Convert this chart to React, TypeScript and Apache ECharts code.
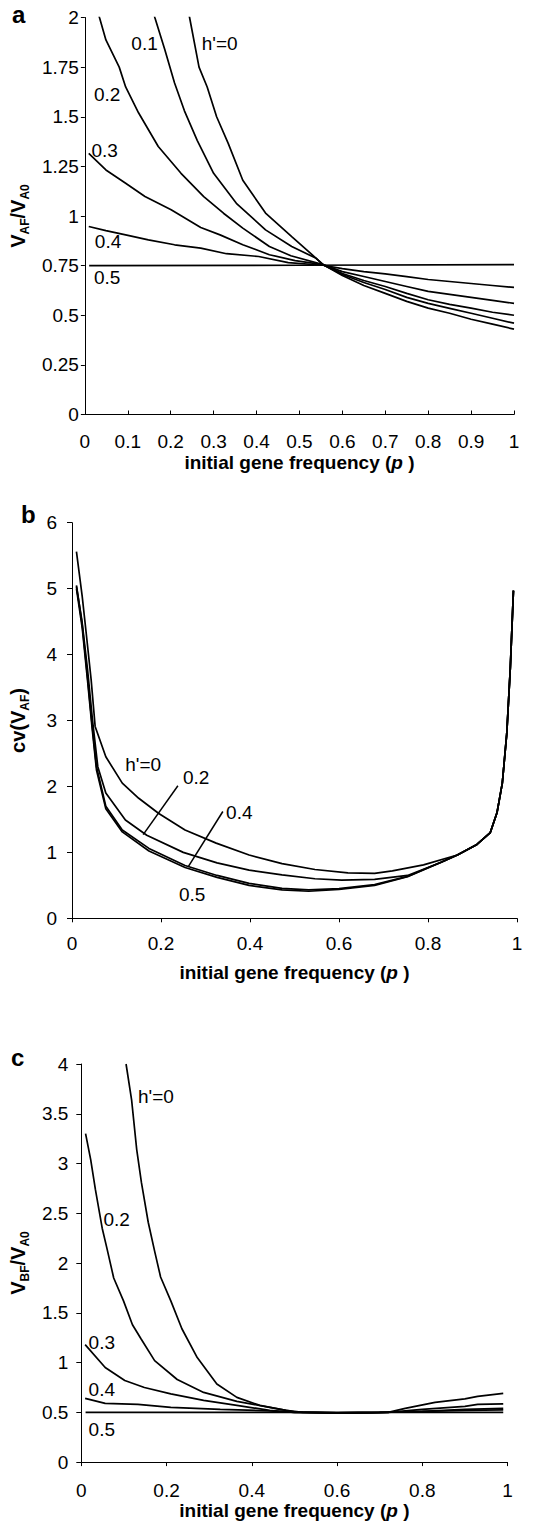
import React, { useEffect, useRef } from "react";
import * as echarts from "echarts";

const FONT = '"Liberation Sans", Arial, Helvetica, sans-serif';

// ---------- Panel a : V_AF / V_A0 ----------
const A_H0_X = [0.23, 0.244, 0.266, 0.285, 0.307, 0.334, 0.368, 0.421, 0.482, 0.539, 0.555, 0.6, 0.65, 0.7, 0.75, 0.8, 0.85, 0.9, 0.95, 1.0];
const A_H0_Y = [2.15, 2.0, 1.75, 1.65, 1.5, 1.366, 1.18, 1.015, 0.896, 0.787, 0.755, 0.7, 0.65, 0.61, 0.57, 0.536, 0.51, 0.48, 0.455, 0.43];
const A_H1_X = [0.15, 0.163, 0.186, 0.209, 0.232, 0.262, 0.3, 0.353, 0.421, 0.482, 0.539, 0.555, 0.6, 0.65, 0.7, 0.75, 0.8, 0.85, 0.9, 0.95, 1.0];
const A_H1_Y = [2.12, 2.0, 1.84, 1.67, 1.53, 1.38, 1.215, 1.064, 0.93, 0.846, 0.787, 0.755, 0.705, 0.665, 0.63, 0.59, 0.56, 0.535, 0.51, 0.485, 0.46];
const A_H2_X = [0.025, 0.034, 0.049, 0.08, 0.095, 0.125, 0.171, 0.224, 0.277, 0.323, 0.368, 0.43, 0.48, 0.555, 0.6, 0.65, 0.7, 0.75, 0.8, 0.85, 0.9, 0.95, 1.0];
const A_H2_Y = [2.08, 2.0, 1.887, 1.75, 1.65, 1.52, 1.35, 1.215, 1.098, 1.014, 0.939, 0.846, 0.8, 0.755, 0.71, 0.675, 0.645, 0.61, 0.578, 0.555, 0.536, 0.515, 0.5];
const A_H3_X = [0.009, 0.049, 0.095, 0.14, 0.201, 0.27, 0.315, 0.368, 0.43, 0.49, 0.555, 0.6, 0.65, 0.7, 0.75, 0.8, 0.85, 0.9, 0.95, 1.0];
const A_H3_Y = [1.316, 1.232, 1.165, 1.098, 1.031, 0.942, 0.905, 0.855, 0.805, 0.775, 0.755, 0.72, 0.695, 0.67, 0.645, 0.62, 0.605, 0.59, 0.575, 0.56];
const A_H4_X = [0.009, 0.049, 0.095, 0.148, 0.209, 0.27, 0.33, 0.405, 0.474, 0.555, 0.6, 0.65, 0.7, 0.75, 0.8, 0.85, 0.9, 0.95, 1.0];
const A_H4_Y = [0.947, 0.926, 0.905, 0.88, 0.855, 0.838, 0.81, 0.796, 0.765, 0.752, 0.735, 0.72, 0.708, 0.695, 0.68, 0.67, 0.66, 0.65, 0.64];
const A_H5_X = [0.01, 0.5, 1.0];
const A_H5_Y = [0.75, 0.752, 0.755];
const A_LABELS = [
  { text: "0.1", x: 0.139, y: 1.87 },
  { text: "h'=0", x: 0.314, y: 1.87 },
  { text: "0.2", x: 0.052, y: 1.614 },
  { text: "0.3", x: 0.046, y: 1.332 },
  { text: "0.4", x: 0.054, y: 0.871 },
  { text: "0.5", x: 0.052, y: 0.688 },
];

// ---------- Panel b : cv(V_AF) ----------
const B_H0_X = [0.01, 0.023, 0.032, 0.043, 0.052, 0.076, 0.113, 0.15, 0.195, 0.254, 0.324, 0.398, 0.472, 0.546, 0.62, 0.68, 0.72, 0.79, 0.866, 0.91, 0.94, 0.955, 0.967, 0.977, 0.985, 0.992];
const B_H0_Y = [5.56, 4.88, 4.32, 3.62, 2.91, 2.45, 2.05, 1.82, 1.59, 1.34, 1.14, 0.96, 0.83, 0.74, 0.69, 0.68, 0.72, 0.81, 0.96, 1.12, 1.3, 1.6, 2.05, 2.8, 3.8, 4.97];
const B_H2_X = [0.01, 0.022, 0.035, 0.046, 0.058, 0.076, 0.12, 0.168, 0.25, 0.326, 0.398, 0.472, 0.546, 0.606, 0.68, 0.754, 0.83, 0.866, 0.91, 0.94, 0.955, 0.967, 0.977, 0.985, 0.992];
const B_H2_Y = [5.03, 4.53, 3.77, 3.01, 2.3, 1.9, 1.49, 1.26, 1.0, 0.84, 0.73, 0.66, 0.6, 0.58, 0.59, 0.65, 0.85, 0.96, 1.12, 1.3, 1.6, 2.05, 2.8, 3.8, 4.97];
const B_H4_X = [0.01, 0.023, 0.035, 0.045, 0.055, 0.076, 0.113, 0.173, 0.254, 0.326, 0.398, 0.472, 0.532, 0.6, 0.68, 0.754, 0.83, 0.866, 0.91, 0.94, 0.955, 0.967, 0.977, 0.985, 0.992];
const B_H4_Y = [5.05, 4.45, 3.65, 2.95, 2.3, 1.7, 1.34, 1.06, 0.8, 0.65, 0.53, 0.455, 0.43, 0.45, 0.51, 0.635, 0.855, 0.96, 1.12, 1.3, 1.6, 2.05, 2.8, 3.8, 4.97];
const B_H5_X = [0.01, 0.023, 0.035, 0.045, 0.055, 0.076, 0.113, 0.173, 0.254, 0.326, 0.398, 0.472, 0.532, 0.6, 0.68, 0.754, 0.83, 0.866, 0.91, 0.94, 0.955, 0.967, 0.977, 0.985, 0.992];
const B_H5_Y = [5.0, 4.4, 3.6, 2.9, 2.25, 1.66, 1.31, 1.02, 0.77, 0.62, 0.5, 0.43, 0.41, 0.44, 0.5, 0.63, 0.85, 0.96, 1.12, 1.3, 1.6, 2.05, 2.8, 3.8, 4.97];
const B_LABELS = [
  { text: "h'=0", x: 0.16, y: 2.34 },
  { text: "0.2", x: 0.279, y: 2.13 },
  { text: "0.4", x: 0.376, y: 1.61 },
  { text: "0.5", x: 0.27, y: 0.36 },
];
const B_LEADER_02 = [[0.16, 1.27], [0.238, 2.01]];
const B_LEADER_04 = [[0.261, 0.78], [0.339, 1.62]];

// ---------- Panel c : V_BF / V_A0 ----------
const C_H0_X = [0.105, 0.118, 0.13, 0.141, 0.157, 0.172, 0.186, 0.21, 0.236, 0.272, 0.318, 0.365, 0.419, 0.48, 0.52, 0.6, 0.68, 0.72, 0.76, 0.83, 0.9, 0.93, 0.99];
const C_H0_Y = [4.0, 3.64, 3.14, 2.81, 2.41, 2.12, 1.86, 1.62, 1.34, 1.05, 0.785, 0.65, 0.57, 0.52, 0.5, 0.492, 0.495, 0.5, 0.54, 0.6, 0.635, 0.66, 0.69];
const C_H2_X = [0.01, 0.022, 0.033, 0.049, 0.06, 0.076, 0.099, 0.12, 0.14, 0.172, 0.225, 0.287, 0.365, 0.442, 0.5, 0.6, 0.72, 0.8, 0.9, 0.93, 0.99];
const C_H2_Y = [3.3, 3.04, 2.74, 2.35, 2.15, 1.85, 1.62, 1.38, 1.24, 1.02, 0.83, 0.7, 0.61, 0.55, 0.505, 0.495, 0.5, 0.53, 0.56, 0.58, 0.585];
const C_H3_X = [0.009, 0.056, 0.102, 0.148, 0.21, 0.287, 0.365, 0.442, 0.5, 0.6, 0.7, 0.8, 0.9, 0.99];
const C_H3_Y = [1.18, 0.95, 0.82, 0.75, 0.685, 0.62, 0.57, 0.52, 0.5, 0.495, 0.5, 0.51, 0.53, 0.54];
const C_H4_X = [0.009, 0.056, 0.133, 0.21, 0.326, 0.442, 0.5, 0.6, 0.7, 0.8, 0.9, 0.99];
const C_H4_Y = [0.64, 0.59, 0.58, 0.55, 0.53, 0.515, 0.5, 0.495, 0.5, 0.51, 0.52, 0.525];
const C_H5_X = [0.01, 0.99];
const C_H5_Y = [0.5, 0.5];
const C_LABELS = [
  { text: "h'=0", x: 0.175, y: 3.67 },
  { text: "0.2", x: 0.083, y: 2.44 },
  { text: "0.3", x: 0.048, y: 1.2 },
  { text: "0.4", x: 0.048, y: 0.73 },
  { text: "0.5", x: 0.048, y: 0.33 },
];

const pairs = (xs: number[], ys: number[]) => xs.map((x, i) => [x, ys[i]]);

function curve(g: number, xs: number[], ys: number[], width = 1.7) {
  return {
    type: "line",
    xAxisIndex: g,
    yAxisIndex: g,
    data: pairs(xs, ys),
    symbol: "none",
    showSymbol: false,
    clip: true,
    silent: true,
    lineStyle: { color: "#000", width, opacity: 1 },
  };
}

function labels(g: number, items: { text: string; x: number; y: number }[]) {
  return {
    type: "scatter",
    xAxisIndex: g,
    yAxisIndex: g,
    symbolSize: 1,
    silent: true,
    itemStyle: { color: "rgba(255,255,255,0)", opacity: 1 },
    label: {
      show: true,
      position: "inside",
      formatter: "{b}",
      fontSize: 19,
      color: "#000",
      opacity: 1,
      textBorderWidth: 0,
      fontFamily: FONT,
    },
    data: items.map((l) => ({ name: l.text, value: [l.x, l.y] })),
  };
}

const axisText = { fontSize: 19, color: "#000", fontFamily: FONT };

function xAxis(g: number, interval: number, margin: number, nameGap: number, tickInside: boolean) {
  return {
    type: "value",
    gridIndex: g,
    min: 0,
    max: 1,
    interval,
    axisLine: { show: true, lineStyle: { color: "#000", width: 1 } },
    axisTick: { show: true, inside: tickInside, length: 4, lineStyle: { color: "#000" } },
    splitLine: { show: false },
    axisLabel: { ...axisText, margin },
    name: "initial gene frequency ({i|p} )",
    nameLocation: "middle",
    nameGap,
    nameTextStyle: {
      fontFamily: FONT,
      fontWeight: "bold",
      fontSize: 19,
      color: "#000",
      rich: { i: { fontFamily: FONT, fontWeight: "bold", fontStyle: "italic", fontSize: 19, color: "#000" } },
    },
  };
}

const yRich = {
  v: { fontFamily: FONT, fontWeight: "bold", fontSize: 20, color: "#000", lineHeight: 26 },
  s: { fontFamily: FONT, fontWeight: "bold", fontSize: 12, color: "#000", verticalAlign: "bottom", lineHeight: 14 },
};

function yAxis(g: number, max: number, interval: number, margin: number, name: string, nameGap: number, tick: number) {
  return {
    type: "value",
    gridIndex: g,
    min: 0,
    max,
    interval,
    axisLine: { show: true, lineStyle: { color: "#000", width: 1 } },
    axisTick: { show: true, length: tick, lineStyle: { color: "#000" } },
    splitLine: { show: false },
    axisLabel: { ...axisText, margin },
    name,
    nameLocation: "middle",
    nameRotate: 90,
    nameGap,
    nameTextStyle: { fontFamily: FONT, fontWeight: "bold", fontSize: 20, color: "#000", rich: yRich },
  };
}

export default function App() {
  const ref = useRef<HTMLDivElement>(null);
  useEffect(() => {
    document.body.style.margin = "0";
    const chart = echarts.init(ref.current as HTMLDivElement, null, { renderer: "svg" });
    chart.setOption({
      animation: false,
      backgroundColor: "#fff",
      grid: [
        { left: 75, top: 17.5, width: 439, height: 397 },
        { left: 68, top: 522.7, width: 449, height: 395.6 },
        { left: 76, top: 1064, width: 431.5, height: 401.5 },
      ],
      xAxis: [
        xAxis(0, 0.1, 17, 38, true),
        xAxis(1, 0.2, 16, 45, false),
        xAxis(2, 0.2, 19, 34, false),
      ],
      yAxis: [
        yAxis(0, 2, 0.25, 6, "{v|V}{s|AF}{v|/V}{s|A0}", 46, 4),
        yAxis(1, 6, 1, 15, "{v|cv(V}{s|AF}{v|)}", 41, 5),
        yAxis(2, 4, 0.5, 13, "{v|V}{s|BF}{v|/V}{s|A0}", 43, 5),
      ],
      graphic: [
        { type: "text", left: 12, top: 2, style: { text: "a", font: `bold 24px ${FONT}`, fill: "#000" } },
        { type: "text", left: 21, top: 502, style: { text: "b", font: `bold 24px ${FONT}`, fill: "#000" } },
        { type: "text", left: 11, top: 1045, style: { text: "c", font: `bold 24px ${FONT}`, fill: "#000" } },
      ],
      series: [
        curve(0, A_H0_X, A_H0_Y),
        curve(0, A_H1_X, A_H1_Y),
        curve(0, A_H2_X, A_H2_Y),
        curve(0, A_H3_X, A_H3_Y),
        curve(0, A_H4_X, A_H4_Y),
        curve(0, A_H5_X, A_H5_Y),
        labels(0, A_LABELS),
        curve(1, B_H0_X, B_H0_Y),
        curve(1, B_H2_X, B_H2_Y),
        curve(1, B_H4_X, B_H4_Y),
        curve(1, B_H5_X, B_H5_Y),
        curve(1, B_LEADER_02.map((p) => p[0]), B_LEADER_02.map((p) => p[1]), 1.5),
        curve(1, B_LEADER_04.map((p) => p[0]), B_LEADER_04.map((p) => p[1]), 1.5),
        labels(1, B_LABELS),
        curve(2, C_H0_X, C_H0_Y),
        curve(2, C_H2_X, C_H2_Y),
        curve(2, C_H3_X, C_H3_Y),
        curve(2, C_H4_X, C_H4_Y),
        curve(2, C_H5_X, C_H5_Y),
        labels(2, C_LABELS),
      ],
    });
    return () => chart.dispose();
  }, []);
  return (
    <div
      ref={ref}
      style={{ position: "absolute", left: 0, top: 0, width: 558, height: 1521, background: "#fff" }}
    />
  );
}
